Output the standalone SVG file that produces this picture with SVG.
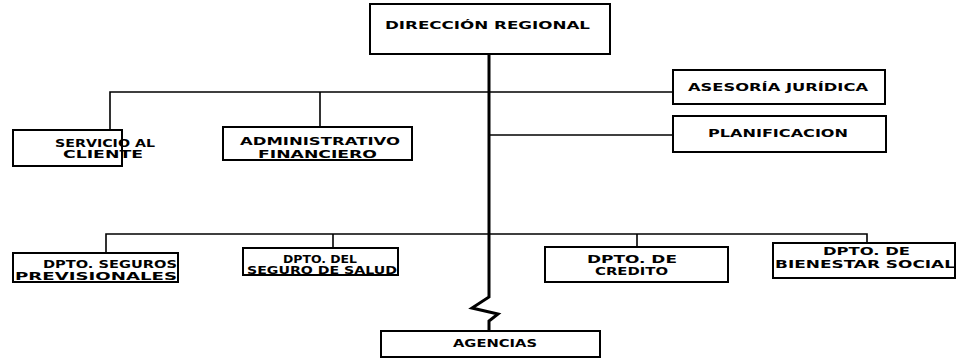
<svg xmlns="http://www.w3.org/2000/svg" width="956" height="360" viewBox="0 0 956 360">
<style>
.box{fill:#fff;stroke:#000;stroke-width:2}
.ln{fill:none;stroke:#000;stroke-width:1.6}
.tr{fill:none;stroke:#000;stroke-width:3}
text{font-family:"DejaVu Sans","Liberation Sans",sans-serif;font-weight:bold;font-size:11px;fill:#000}
</style>
<rect width="956" height="360" fill="#fff"/>
<g id="connectors">
<path class="tr" d="M489,54 V297 L472,308 L498,314 L489,321 V331"/>
<path class="ln" d="M110,130 V92 H673"/>
<path class="ln" d="M320,127 V92"/>
<path class="ln" d="M489,135 H673"/>
<path class="ln" d="M106,253 V234 H867 V243"/>
<path class="ln" d="M333,248 V234"/>
<path class="ln" d="M637,247 V234"/>
</g>
<g id="direccion">
<rect class="box" x="370" y="4" width="240" height="50"/>
<text x="385" y="29" textLength="205" lengthAdjust="spacingAndGlyphs">DIRECCIÓN REGIONAL</text>
</g>
<g id="asesoria">
<rect class="box" x="673" y="70" width="212" height="34"/>
<text x="688" y="91" textLength="180" lengthAdjust="spacingAndGlyphs">ASESORÍA JURÍDICA</text>
</g>
<g id="planificacion">
<rect class="box" x="673" y="116" width="213" height="36"/>
<text x="708" y="137" textLength="140" lengthAdjust="spacingAndGlyphs">PLANIFICACION</text>
</g>
<g id="servicio">
<rect class="box" x="13" y="130" width="109" height="36"/>
<text x="55" y="147" textLength="100" lengthAdjust="spacingAndGlyphs" style="font-size:10px">SERVICIO AL</text>
<text x="63" y="158" textLength="80" lengthAdjust="spacingAndGlyphs" style="font-size:10px">CLIENTE</text>
</g>
<g id="administrativo">
<rect class="box" x="223" y="127" width="189" height="33"/>
<text x="240" y="145" textLength="160" lengthAdjust="spacingAndGlyphs" style="font-size:10px">ADMINISTRATIVO</text>
<text x="258" y="158" textLength="119" lengthAdjust="spacingAndGlyphs" style="font-size:10px">FINANCIERO</text>
</g>
<g id="seguros">
<rect class="box" x="13" y="253" width="165" height="29"/>
<text x="43" y="268" textLength="134" lengthAdjust="spacingAndGlyphs">DPTO. SEGUROS</text>
<text x="15" y="280" textLength="162" lengthAdjust="spacingAndGlyphs">PREVISIONALES</text>
</g>
<g id="salud">
<rect class="box" x="243" y="248" width="155" height="27"/>
<text x="283" y="263" textLength="74" lengthAdjust="spacingAndGlyphs" style="font-size:10.5px">DPTO. DEL</text>
<text x="247" y="274" textLength="150" lengthAdjust="spacingAndGlyphs" style="font-size:10.5px">SEGURO DE SALUD</text>
</g>
<g id="credito">
<rect class="box" x="545" y="247" width="183" height="35"/>
<text x="587" y="263" textLength="90" lengthAdjust="spacingAndGlyphs" style="font-size:10px">DPTO. DE</text>
<text x="595" y="275" textLength="73" lengthAdjust="spacingAndGlyphs" style="font-size:10px">CREDITO</text>
</g>
<g id="bienestar">
<rect class="box" x="773" y="243" width="182" height="35"/>
<text x="823" y="255" textLength="87" lengthAdjust="spacingAndGlyphs" style="font-size:10px">DPTO. DE</text>
<text x="775" y="268" textLength="180" lengthAdjust="spacingAndGlyphs">BIENESTAR SOCIAL</text>
</g>
<g id="agencias">
<rect class="box" x="381" y="331" width="219" height="26"/>
<text x="453" y="347" textLength="84" lengthAdjust="spacingAndGlyphs">AGENCIAS</text>
</g>
</svg>
